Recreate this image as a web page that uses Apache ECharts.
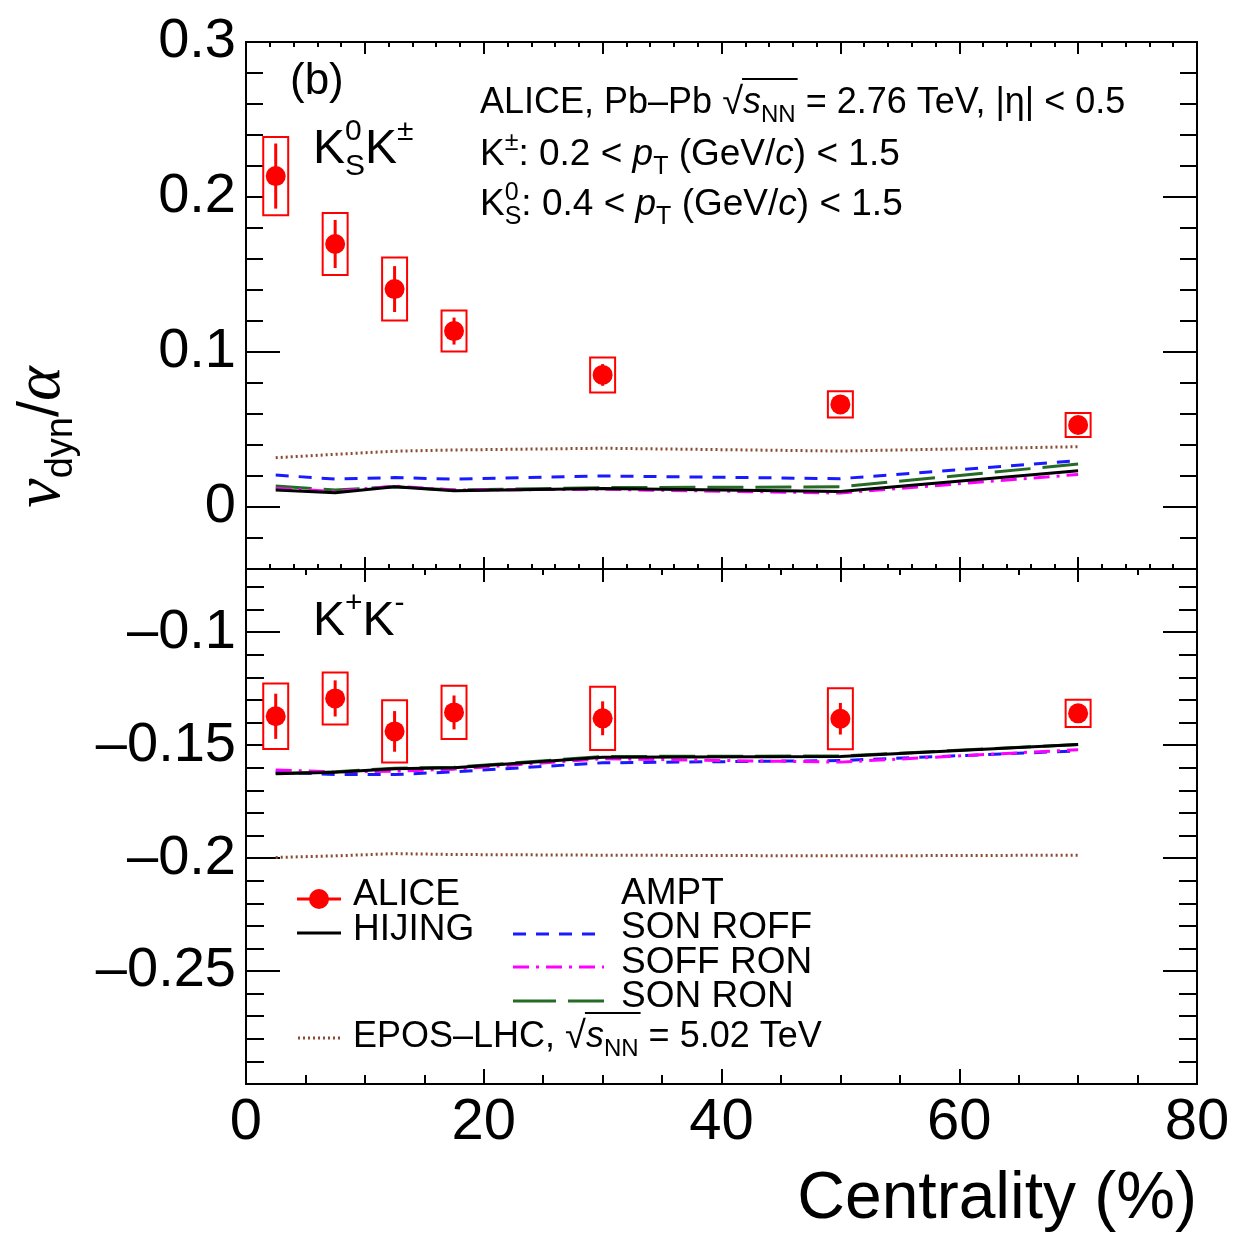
<!DOCTYPE html>
<html><head><meta charset="utf-8">
<script src="https://cdn.jsdelivr.net/npm/echarts@6/dist/echarts.min.js"></script>
<style>html,body{margin:0;padding:0;background:#fff}#c{width:1236px;height:1236px}</style>
</head><body><div id="c"></div>
<script>
// ---------------- DATA ----------------
const centrality = [2.5, 7.5, 12.5, 17.5, 30, 50, 70];

// Top panel: K0S K±
const aliceTop     = [0.2135, 0.1697, 0.1406, 0.1135, 0.0852, 0.0662, 0.0529];
const aliceTopStat = [0.021, 0.0155, 0.0148, 0.0087, 0.007, 0.005, 0.004];
const aliceTopSys  = [0.0252, 0.020, 0.0203, 0.0132, 0.0113, 0.0084, 0.0077];
const hijingTop  = [0.011, 0.0092, 0.013, 0.0105, 0.012, 0.010, 0.0234];
const sonRoffTop = [0.0206, 0.018, 0.019, 0.018, 0.020, 0.0183, 0.0299];
const soffRonTop = [0.012, 0.010, 0.0135, 0.011, 0.0114, 0.009, 0.021];
const sonRonTop  = [0.0135, 0.011, 0.013, 0.011, 0.0125, 0.013, 0.0277];
const eposTop    = [0.0318, 0.034, 0.036, 0.0368, 0.0379, 0.0361, 0.0389];

// Bottom panel: K+ K-
const aliceBot     = [-0.1372, -0.1293, -0.1439, -0.1355, -0.1381, -0.1383, -0.1359];
const aliceBotStat = [0.010, 0.008, 0.009, 0.0075, 0.0075, 0.007, 0.003];
const aliceBotSys  = [0.0145, 0.0115, 0.0138, 0.0118, 0.014, 0.0135, 0.006];
const hijingBot  = [-0.1627, -0.1620, -0.1604, -0.1600, -0.1553, -0.1550, -0.1497];
const sonRoffBot = [-0.1618, -0.1630, -0.1630, -0.1618, -0.1578, -0.1568, -0.1525];
const soffRonBot = [-0.1610, -0.1618, -0.1615, -0.1606, -0.1560, -0.1575, -0.1520];
const sonRonBot  = [-0.1625, -0.1618, -0.1602, -0.1598, -0.1550, -0.1548, -0.1497];
const eposBot    = [-0.1997, -0.1990, -0.1980, -0.1984, -0.1987, -0.1990, -0.1987];

// Tick labels
const xTickLabels = [0, 20, 40, 60, 80];
const yTopTickLabels = [0, 0.1, 0.2, 0.3];
const yBotTickLabels = [-0.25, -0.2, -0.15, -0.1];

// ---------------- HELPERS ----------------
const SANS = '"Liberation Sans", Arial, Helvetica, sans-serif';
const SERIF = '"Liberation Serif", "Times New Roman", serif';
function range(a, b, s) { const r = []; for (let v = a; v <= b + 1e-9; v += s) r.push(Math.round(v * 10000) / 10000); return r; }
const xMinor2 = range(0, 80, 2), xMinor5 = range(0, 80, 5), xMajor10 = range(0, 80, 10), xMajor20 = range(0, 80, 20);
const yTopMinor = range(-0.04, 0.3, 0.02);
const yBotMinor = range(-0.29, -0.075, 0.01);
const yBotMajor = yBotTickLabels;
const pairs = (ys) => centrality.map((x, i) => [x, ys[i]]);
const aliceRows = (v, st, sy) => centrality.map((x, i) => [x, v[i], st[i], sy[i]]);

function fmtY(v) {
  const a = Math.round(Math.abs(v) * 1000) / 1000;
  return (v < -1e-9 ? '\u2013' : '') + String(a);
}
const LINE = { color: '#000', width: 2 };
function xAx(gi, pos, ticks, len, label) {
  return {
    type: 'value', gridIndex: gi, position: pos, min: 0, max: 80,
    axisLine: { show: true, onZero: false, lineStyle: LINE },
    axisTick: { show: true, inside: true, length: len, customValues: ticks, lineStyle: LINE },
    axisLabel: label ? { show: true, customValues: xTickLabels, fontSize: 58, fontFamily: SANS, color: '#000', margin: 10 } : { show: false },
    splitLine: { show: false }
  };
}
function yAx(gi, pos, min, max, ticks, len, labels) {
  return {
    type: 'value', gridIndex: gi, position: pos, min: min, max: max,
    axisLine: { show: true, onZero: false, lineStyle: LINE },
    axisTick: { show: true, inside: true, length: len, customValues: ticks, lineStyle: LINE },
    axisLabel: labels ? { show: true, customValues: labels, formatter: fmtY, fontSize: 56, fontFamily: SANS, color: '#000', margin: 10 } : { show: false },
    splitLine: { show: false }
  };
}

const mctx = document.createElement('canvas').getContext('2d');
function tw(t, s, it, fam) { mctx.font = (it ? 'italic ' : '') + s + 'px ' + (fam || SANS); return mctx.measureText(t).width; }
function row(x0, y0, pieces, color, center) {
  let total = 0;
  pieces.forEach(p => { if (!p.stay) total += tw(p.t, p.s, p.it, p.fam); });
  let x = center ? x0 - total / 2 : x0;
  const els = []; let ovS = null, ovE = null, ovY = 0;
  pieces.forEach(p => {
    const w = tw(p.t, p.s, p.it, p.fam);
    els.push({ type: 'text', x: x, y: y0 + (p.dy || 0), silent: true,
      style: { text: p.t, fontSize: p.s, fontFamily: p.fam || SANS, fontStyle: p.it ? 'italic' : 'normal', fill: color || '#000', align: 'left', verticalAlign: 'middle' } });
    if (p.ov) { if (ovS === null) ovS = x; ovE = x + w; ovY = p.ov; }
    if (!p.stay) x += w;
  });
  if (ovS !== null) els.push({ type: 'line', silent: true, shape: { x1: ovS - 1, y1: y0 + ovY, x2: ovE + 2, y2: y0 + ovY }, style: { stroke: color || '#000', lineWidth: 2 } });
  return els;
}

function aliceRender(params, api) {
  const x = api.value(0), y = api.value(1), st = api.value(2), sy = api.value(3);
  const c = api.coord([x, y]);
  const b0 = api.coord([x - 1.05, y + sy]);
  const b1 = api.coord([x + 1.05, y - sy]);
  const s0 = api.coord([x, y + st]);
  const s1 = api.coord([x, y - st]);
  return { type: 'group', children: [
    { type: 'rect', shape: { x: b0[0], y: b0[1], width: b1[0] - b0[0], height: b1[1] - b0[1] }, style: { fill: '#fff', stroke: '#ff0000', lineWidth: 2 } },
    { type: 'line', shape: { x1: s0[0], y1: s0[1], x2: s1[0], y2: s1[1] }, style: { stroke: '#ff0000', lineWidth: 3 } },
    { type: 'circle', shape: { cx: c[0], cy: c[1], r: 10 }, style: { fill: '#ff0000' } }
  ] };
}

const STY = {
  hijing:  { color: '#000000', width: 3, type: 'solid' },
  sonRoff: { color: '#1a1aff', width: 3, type: [13, 10] },
  soffRon: { color: '#ff00ff', width: 3, type: [16, 7, 3, 7] },
  sonRon:  { color: '#256b25', width: 3, type: [36, 12] },
  epos:    { color: '#8b4a32', width: 3, type: [2, 3] }
};
function modelLine(name, data, sty, xi, yi) {
  return { type: 'line', name: name, xAxisIndex: xi, yAxisIndex: yi, data: data, showSymbol: false, symbol: 'none',
    lineStyle: { color: sty.color, width: sty.width, type: sty.type }, z: 3, silent: true };
}

// ---------------- GRAPHIC TEXT ----------------
const F = 37, FS = 25;
let g = [];
g.push({ type: 'text', x: 290, y: 82, silent: true, style: { text: '(b)', fontSize: 44, fontFamily: SANS, fill: '#000', verticalAlign: 'middle' } });
g = g.concat(row(313, 150, [
  { t: 'K', s: 48 }, { t: '0', s: 30, dy: -18, stay: true }, { t: 'S', s: 30, dy: 17 }, { t: 'K', s: 48 }, { t: '\u00b1', s: 30, dy: -18 }
]));
g = g.concat(row(313, 622, [
  { t: 'K', s: 48 }, { t: '+', s: 30, dy: -18 }, { t: 'K', s: 48 }, { t: '-', s: 30, dy: -18 }
]));
g = g.concat(row(480, 103, [
  { t: 'ALICE, Pb\u2013Pb ', s: 36 }, { t: '\u221a', s: 38, dy: 1 }, { t: 's', s: 36, it: true, ov: -24 }, { t: 'NN', s: 24, dy: 12, ov: -24 }, { t: ' = 2.76 TeV, |\u03b7| < 0.5', s: 36 }
]));
g = g.concat(row(480, 155, [
  { t: 'K', s: F }, { t: '\u00b1', s: FS, dy: -12 }, { t: ': 0.2 < ', s: F }, { t: 'p', s: F, it: true }, { t: 'T', s: FS, dy: 12 }, { t: ' (GeV/', s: F }, { t: 'c', s: F, it: true }, { t: ') < 1.5', s: F }
]));
g = g.concat(row(480, 205, [
  { t: 'K', s: F }, { t: '0', s: FS, dy: -12, stay: true }, { t: 'S', s: FS, dy: 12 }, { t: ': 0.4 < ', s: F }, { t: 'p', s: F, it: true }, { t: 'T', s: FS, dy: 12 }, { t: ' (GeV/', s: F }, { t: 'c', s: F, it: true }, { t: ') < 1.5', s: F }
]));
// legend
const LF = 37;
g.push({ type: 'line', silent: true, shape: { x1: 297, y1: 899, x2: 341, y2: 899 }, style: { stroke: '#ff0000', lineWidth: 3 } });
g.push({ type: 'circle', silent: true, shape: { cx: 319, cy: 899, r: 10 }, style: { fill: '#ff0000' } });
g = g.concat(row(353, 895, [{ t: 'ALICE', s: LF }]));
g.push({ type: 'line', silent: true, shape: { x1: 297, y1: 933, x2: 341, y2: 933 }, style: { stroke: STY.hijing.color, lineWidth: 3 } });
g = g.concat(row(353, 930, [{ t: 'HIJING', s: LF }]));
g = g.concat(row(621, 894, [{ t: 'AMPT', s: LF }]));
g.push({ type: 'line', silent: true, shape: { x1: 513, y1: 934, x2: 604, y2: 934 }, style: { stroke: STY.sonRoff.color, lineWidth: 3, lineDash: STY.sonRoff.type } });
g = g.concat(row(621, 928, [{ t: 'SON ROFF', s: LF }]));
g.push({ type: 'line', silent: true, shape: { x1: 513, y1: 967, x2: 604, y2: 967 }, style: { stroke: STY.soffRon.color, lineWidth: 3, lineDash: STY.soffRon.type } });
g = g.concat(row(621, 963, [{ t: 'SOFF RON', s: LF }]));
g.push({ type: 'line', silent: true, shape: { x1: 513, y1: 1001, x2: 604, y2: 1001 }, style: { stroke: STY.sonRon.color, lineWidth: 3, lineDash: [43, 12] } });
g = g.concat(row(621, 997, [{ t: 'SON RON', s: LF }]));
g.push({ type: 'line', silent: true, shape: { x1: 298, y1: 1038, x2: 342, y2: 1038 }, style: { stroke: STY.epos.color, lineWidth: 3, lineDash: STY.epos.type } });
g = g.concat(row(353, 1037, [
  { t: 'EPOS\u2013LHC, ', s: 36 }, { t: '\u221a', s: 38, dy: 1 }, { t: 's', s: 36, it: true, ov: -24 }, { t: 'NN', s: 24, dy: 12, ov: -24 }, { t: ' = 5.02 TeV', s: 36 }
]));
// axis titles
g.push({ type: 'text', x: 1197, y: 1200, silent: true, style: { text: 'Centrality (%)', fontSize: 66, fontFamily: SANS, fill: '#000', align: 'right', verticalAlign: 'middle' } });
g.push({ type: 'group', x: 42, y: 437, rotation: Math.PI / 2, silent: true, children: row(0, 0, [
  { t: '\u03bd', s: 66, it: true, fam: SERIF }, { t: 'dyn', s: 38, dy: 20 }, { t: '/', s: 58 }, { t: '\u03b1', s: 66, it: true, fam: SERIF }
], '#000', true) });

// ---------------- CHART ----------------
const chart = echarts.init(document.getElementById('c'), null, { renderer: 'canvas' });
chart.setOption({
  animation: false,
  backgroundColor: '#ffffff',
  grid: [
    { left: 246, right: 39, top: 42, height: 527 },
    { left: 246, right: 39, top: 569, height: 515 }
  ],
  xAxis: [
    xAx(0, 'bottom', xMinor2, 5, false),
    xAx(0, 'bottom', xMajor10, 12, false),
    xAx(0, 'top', xMinor2, 5, false),
    xAx(0, 'top', xMajor10, 12, false),
    xAx(1, 'top', xMinor5, 6, false),
    xAx(1, 'top', xMajor10, 13, false),
    xAx(1, 'bottom', xMinor5, 9, false),
    xAx(1, 'bottom', xMajor20, 15, true)
  ],
  yAxis: [
    yAx(0, 'left', -0.04, 0.3, yTopMinor, 17, null),
    yAx(0, 'left', -0.04, 0.3, yTopTickLabels, 34, yTopTickLabels),
    yAx(0, 'right', -0.04, 0.3, yTopMinor, 17, null),
    yAx(0, 'right', -0.04, 0.3, yTopTickLabels, 34, null),
    yAx(1, 'left', -0.3, -0.072, yBotMinor, 18, null),
    yAx(1, 'left', -0.3, -0.072, yBotMajor, 34, yBotTickLabels),
    yAx(1, 'right', -0.3, -0.072, yBotMinor, 18, null),
    yAx(1, 'right', -0.3, -0.072, yBotMajor, 34, null)
  ],
  series: [
    modelLine('EPOS', pairs(eposTop), STY.epos, 0, 0),
    modelLine('SON ROFF', pairs(sonRoffTop), STY.sonRoff, 0, 0),
    modelLine('SON RON', pairs(sonRonTop), STY.sonRon, 0, 0),
    modelLine('SOFF RON', pairs(soffRonTop), STY.soffRon, 0, 0),
    modelLine('HIJING', pairs(hijingTop), STY.hijing, 0, 0),
    { type: 'custom', name: 'ALICE', xAxisIndex: 0, yAxisIndex: 0, data: aliceRows(aliceTop, aliceTopStat, aliceTopSys), renderItem: aliceRender, z: 5, silent: true },
    modelLine('EPOS', pairs(eposBot), STY.epos, 6, 4),
    modelLine('SON ROFF', pairs(sonRoffBot), STY.sonRoff, 6, 4),
    modelLine('SOFF RON', pairs(soffRonBot), STY.soffRon, 6, 4),
    modelLine('SON RON', pairs(sonRonBot), STY.sonRon, 6, 4),
    modelLine('HIJING', pairs(hijingBot), STY.hijing, 6, 4),
    { type: 'custom', name: 'ALICE', xAxisIndex: 6, yAxisIndex: 4, data: aliceRows(aliceBot, aliceBotStat, aliceBotSys), renderItem: aliceRender, z: 5, silent: true }
  ],
  graphic: { elements: g }
});
</script>
</body></html>
